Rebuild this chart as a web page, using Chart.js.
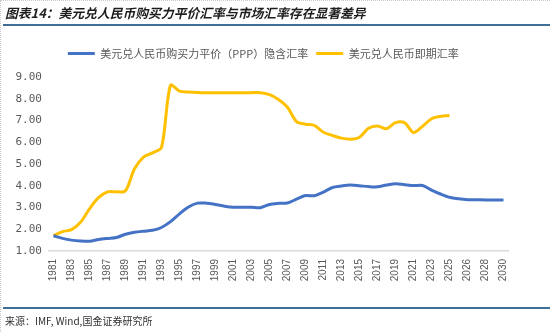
<!DOCTYPE html>
<html>
<head>
<meta charset="utf-8">
<script src="https://cdn.jsdelivr.net/npm/chart.js@4"></script>
<style>
  html, body { margin: 0; padding: 0; background: #fff; }
  body { width: 550px; height: 332px; position: relative; overflow: hidden; }
  #frame { position: absolute; left: 0; top: 0; width: 549px; height: 331px; border-left: 1px dotted #c8c8c8; border-top: 1px dotted #c8c8c8; }
  #title { position: absolute; left: 5px; top: 3px; font: italic bold 12.8px "Noto Sans CJK SC", sans-serif; color: #1e1e1e; white-space: nowrap; }
  #topRule { position: absolute; left: 3px; right: 0; top: 24px; height: 0; border-top: 2px solid #3f6f96; }
  #bottomRule { position: absolute; left: 3px; right: 0; top: 307px; height: 0; border-top: 2px solid #3f6f96; }
  #source { position: absolute; left: 5px; top: 313px; font: 10px "Noto Sans CJK SC", sans-serif; color: #333; white-space: nowrap; }
  #wrap { position: absolute; left: 0; top: 0; width: 550px; height: 332px; }
</style>
</head>
<body>
<div id="frame"></div>
<div id="wrap"><canvas id="myChart" width="550" height="332"></canvas></div>
<div id="title">图表14：美元兑人民币购买力平价汇率与市场汇率存在显著差异</div>
<div id="topRule"></div>
<div id="bottomRule"></div>
<div id="source">来源：IMF, Wind,国金证券研究所</div>

<script>
// years on the x axis (one extra point sits between 2025 and 2026 in the source sheet)
const years = ["1981","1982","1983","1984","1985","1986","1987","1988","1989","1990",
    "1991","1992","1993","1994","1995","1996","1997","1998","1999","2000",
    "2001","2002","2003","2004","2005","2006","2007","2008","2009","2010",
    "2011","2012","2013","2014","2015","2016","2017","2018","2019","2020",
    "2021","2022","2023","2024","2025","2025E","2026","2027","2028","2029","2030"];

// PPP implied rate
const pppRate = [1.70, 1.58, 1.50, 1.46, 1.45, 1.53, 1.58, 1.62, 1.77, 1.86,
    1.91, 1.95, 2.08, 2.35, 2.71, 3.02, 3.20, 3.20, 3.14, 3.06,
    3.01, 3.01, 3.01, 2.99, 3.14, 3.19, 3.21, 3.38, 3.55, 3.54,
    3.71, 3.92, 3.99, 4.03, 4.00, 3.96, 3.95, 4.03, 4.09, 4.05,
    4.01, 4.01, 3.80, 3.62, 3.47, 3.40, 3.36, 3.36, 3.35, 3.35, 3.35];

// spot rate (annual average)
const spotRate = [1.70, 1.89, 1.98, 2.32, 2.94, 3.45, 3.72, 3.72, 3.77, 4.78,
    5.32, 5.51, 5.76, 8.62, 8.35, 8.31, 8.29, 8.28, 8.28, 8.28,
    8.28, 8.28, 8.28, 8.28, 8.19, 7.97, 7.61, 6.95, 6.83, 6.77,
    6.46, 6.31, 6.19, 6.14, 6.23, 6.64, 6.75, 6.62, 6.90, 6.90,
    6.45, 6.73, 7.08, 7.19, 7.23];

const seriesNames = ["美元兑人民币购买力平价（PPP）隐含汇率", "美元兑人民币即期汇率"];
const seriesColors = ["#4472C4", "#FFC000"];
const yTicks = [1, 2, 3, 4, 5, 6, 7, 8, 9];

// nudge the legend a little to the right, like the original
const legendShift = {
    id: "legendShift",
    afterLayout(chart) {
        chart.legend.left += 5;
        chart.legend.right += 5;
    }
};

const ctx = document.getElementById("myChart").getContext("2d");
new Chart(ctx, {
    type: "line",
    data: {
        labels: years,
        datasets: [{
            label: seriesNames[0],
            data: pppRate,
            borderColor: seriesColors[0],
            backgroundColor: seriesColors[0],
            borderWidth: 3,
            pointRadius: 0,
            tension: 0.3
        }, {
            label: seriesNames[1],
            data: spotRate,
            borderColor: seriesColors[1],
            backgroundColor: seriesColors[1],
            borderWidth: 3,
            pointRadius: 0,
            tension: 0.3
        }]
    },
    plugins: [legendShift],
    options: {
        responsive: false,
        animation: false,
        layout: { padding: { top: 40, left: 8.5, right: 42, bottom: 0 } },
        plugins: {
            tooltip: { enabled: false },
            // empty title used as a spacer under the legend
            title: {
                display: true,
                text: "",
                weight: 500,
                font: { size: 1 },
                padding: { top: 0, bottom: 6.8 }
            },
            legend: {
                position: "top",
                labels: {
                    boxWidth: 27,
                    boxHeight: 3,
                    padding: 8,
                    color: "#595959",
                    font: { family: "Noto Sans CJK SC", size: 11 },
                    generateLabels(chart) {
                        return chart.data.datasets.map(function (ds, i) {
                            return {
                                text: ds.label,
                                fillStyle: ds.borderColor,
                                strokeStyle: ds.borderColor,
                                lineWidth: 0,
                                fontColor: "#595959",
                                datasetIndex: i
                            };
                        });
                    }
                }
            }
        },
        scales: {
            x: {
                offset: true,
                grid: { display: false, drawTicks: false, tickLength: 0 },
                border: { display: true, color: "#d9d9d9", width: 1.5 },
                ticks: {
                    autoSkip: false,
                    maxRotation: 90,
                    minRotation: 90,
                    padding: 8,
                    color: "#595959",
                    font: { family: "Liberation Sans", size: 10 },
                    callback: function (value, index) {
                        return index % 2 === 0 ? years[index] : "";
                    }
                },
                afterFit: function (scale) { scale.height = 81; }
            },
            y: {
                min: yTicks[0],
                max: yTicks[yTicks.length - 1],
                grid: { display: false, drawTicks: false, tickLength: 0 },
                border: { display: false },
                afterBuildTicks: function (scale) {
                    scale.ticks = yTicks.map(function (v) { return { value: v }; });
                },
                ticks: {
                    padding: 7,
                    color: "#595959",
                    font: { family: "DejaVu Sans Mono", size: 11 },
                    callback: function (value) { return value.toFixed(2); }
                }
            }
        }
    }
});
</script>
</body>
</html>
